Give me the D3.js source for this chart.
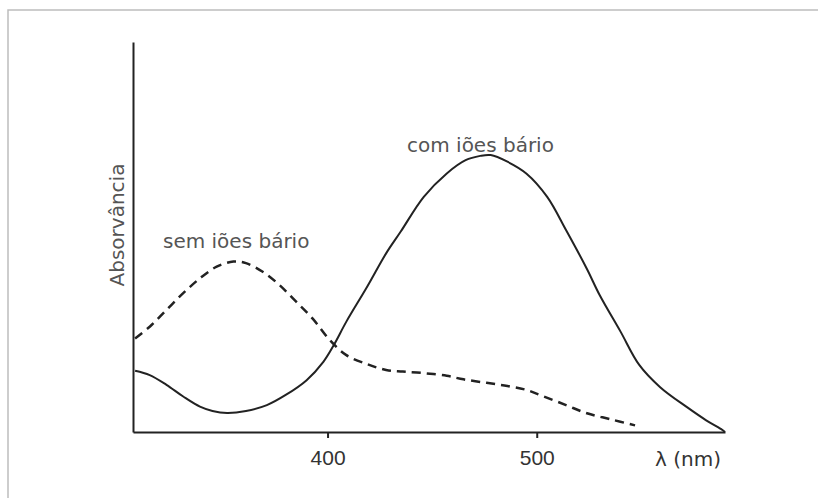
<!DOCTYPE html>
<html>
<head>
<meta charset="utf-8">
<script src="https://cdn.jsdelivr.net/npm/d3@7"></script>
<style>
  html, body { margin: 0; padding: 0; background: #fff; }
  svg { display: block; }
</style>
</head>
<body>
<div id="chart"></div>
<script>
// wavelength (nm) / absorbance (arbitrary units)
const comLambda = [308, 315, 323, 331, 339, 345, 352, 361, 371, 380, 390, 398, 403, 409, 419, 428, 435, 446, 457, 466, 473, 478, 486, 495, 505, 514, 524, 530, 540, 549, 559, 572, 581, 588, 590];
const comAbs    = [0.157, 0.146, 0.121, 0.091, 0.065, 0.054, 0.049, 0.054, 0.069, 0.095, 0.133, 0.180, 0.223, 0.283, 0.373, 0.458, 0.514, 0.603, 0.663, 0.697, 0.708, 0.710, 0.693, 0.663, 0.603, 0.518, 0.418, 0.352, 0.258, 0.172, 0.115, 0.063, 0.030, 0.008, 0];

const semLambda = [308, 315, 323, 331, 339, 347, 355, 361, 369, 377, 385, 393, 401, 409, 419, 428, 436, 446, 457, 465, 476, 486, 495, 503, 514, 524, 535, 547];
const semAbs    = [0.240, 0.270, 0.313, 0.356, 0.394, 0.424, 0.437, 0.433, 0.411, 0.377, 0.334, 0.290, 0.236, 0.197, 0.174, 0.159, 0.155, 0.151, 0.144, 0.135, 0.126, 0.118, 0.108, 0.092, 0.069, 0.048, 0.033, 0.017];

const xTicks = [400, 500];
const xDomain = [307, 590];
const yDomain = [0, 1];

const W = 818, H = 498;
const margin = { top: 42, right: 93, bottom: 66, left: 133 };

const svg = d3.select('#chart').append('svg')
  .attr('width', W)
  .attr('height', H);

// light frame around the figure
svg.append('path')
  .attr('d', `M8,${H} L8,10 L${W},10`)
  .attr('fill', 'none')
  .attr('stroke', '#bdbdbd')
  .attr('stroke-width', 1.5);

const x = d3.scaleLinear().domain(xDomain).range([margin.left, W - margin.right]);
const y = d3.scaleLinear().domain(yDomain).range([H - margin.bottom, margin.top]);

// x axis
const xAxis = svg.append('g')
  .attr('transform', `translate(0,${H - margin.bottom})`)
  .call(d3.axisBottom(x).tickValues(xTicks).tickSize(6).tickSizeOuter(0).tickPadding(12));
xAxis.select('.domain').attr('stroke', '#222').attr('stroke-width', 2);
xAxis.selectAll('.tick line').attr('stroke', '#222').attr('stroke-width', 2);
xAxis.selectAll('.tick text')
  .attr('fill', '#333')
  .style('font-family', '"Liberation Sans", Arial, sans-serif')
  .style('font-size', '21px');

// y axis (no ticks)
const yAxis = svg.append('g')
  .attr('transform', `translate(${margin.left},0)`)
  .call(d3.axisLeft(y).tickValues([]).tickSizeOuter(0));
yAxis.select('.domain').attr('stroke', '#222').attr('stroke-width', 2);

const line = d3.line()
  .x(d => x(d[0]))
  .y(d => y(d[1]))
  .curve(d3.curveCatmullRom.alpha(0.5));

svg.append('path')
  .datum(d3.zip(comLambda, comAbs))
  .attr('d', line)
  .attr('fill', 'none')
  .attr('stroke', '#222')
  .attr('stroke-width', 2);

svg.append('path')
  .datum(d3.zip(semLambda, semAbs))
  .attr('d', line)
  .attr('fill', 'none')
  .attr('stroke', '#222')
  .attr('stroke-width', 2.5)
  .attr('stroke-dasharray', '9,6');

const font = '"DejaVu Sans", Verdana, sans-serif';

// y axis title
svg.append('text')
  .attr('transform', `translate(${margin.left - 9},225) rotate(-90)`)
  .attr('text-anchor', 'middle')
  .attr('fill', '#555')
  .style('font-family', font)
  .style('font-size', '20px')
  .text('Absorvância');

// x axis unit
svg.append('text')
  .attr('x', 655)
  .attr('y', 466)
  .attr('fill', '#333')
  .style('font-family', font)
  .style('font-size', '20px')
  .text('λ (nm)');

// curve labels
svg.append('text')
  .attr('x', 163)
  .attr('y', 248)
  .attr('fill', '#555')
  .style('font-family', font)
  .style('font-size', '20px')
  .text('sem iões bário');

svg.append('text')
  .attr('x', 407)
  .attr('y', 152)
  .attr('fill', '#555')
  .style('font-family', font)
  .style('font-size', '20px')
  .text('com iões bário');
</script>
</body>
</html>
